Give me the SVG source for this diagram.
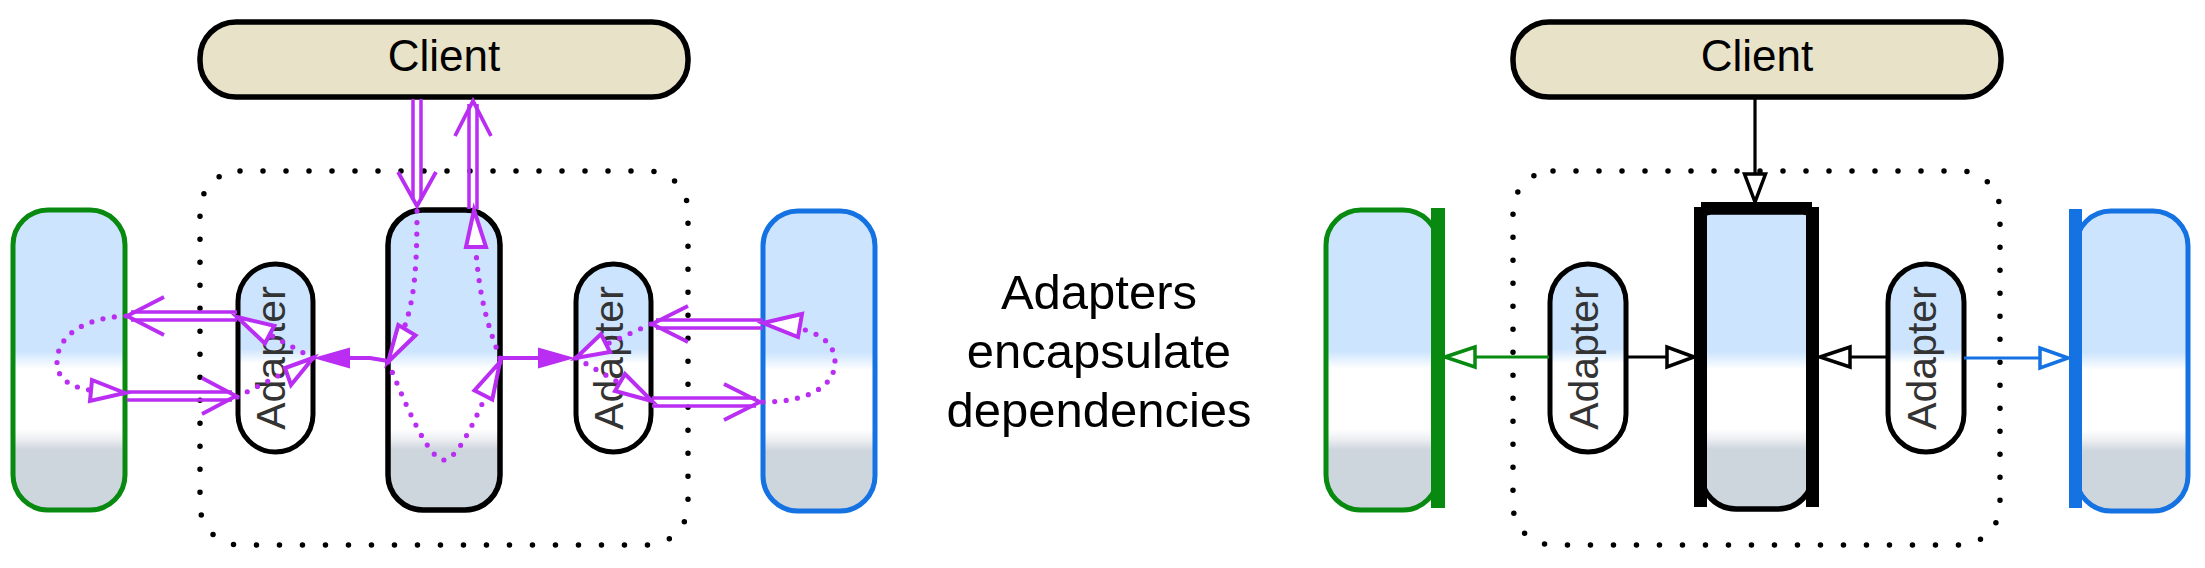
<svg xmlns="http://www.w3.org/2000/svg" width="2205" height="568" viewBox="0 0 2205 568">
<defs>
<linearGradient id="gBox" x1="0" y1="0" x2="0" y2="1">
<stop offset="0" stop-color="#cce4fe"/>
<stop offset="0.47" stop-color="#cce4fe"/>
<stop offset="0.53" stop-color="#ffffff"/>
<stop offset="0.73" stop-color="#ffffff"/>
<stop offset="0.765" stop-color="#eceef1"/>
<stop offset="0.80" stop-color="#cdd5dd"/>
<stop offset="1" stop-color="#cdd5dd"/>
</linearGradient>
<linearGradient id="gAd" x1="0" y1="0" x2="0" y2="1">
<stop offset="0" stop-color="#cce4fe"/>
<stop offset="0.45" stop-color="#cce4fe"/>
<stop offset="0.53" stop-color="#ffffff"/>
<stop offset="1" stop-color="#ffffff"/>
</linearGradient>
<style>
.client{fill:#e8e2c9;stroke:#000;stroke-width:5.5}
.dots{fill:none;stroke:#000;stroke-width:5.5;stroke-linecap:round;stroke-dasharray:0 23}
.box{fill:url(#gBox);stroke-width:5}
.core{fill:url(#gBox);stroke:#000;stroke-width:5.5}
.ad{fill:url(#gAd);stroke:#000;stroke-width:5}
.green{stroke:#078a0f}
.blue{stroke:#1472e2}
.t{font-family:"Liberation Sans",Arial,sans-serif;text-anchor:middle}
.tc{font-size:44px;fill:#000}
.ta{font-size:41px;fill:#333}
.tm{font-size:49px;fill:#000}
.p{fill:none;stroke:#b92ef2;stroke-width:3.5}
.pv{fill:none;stroke:#b92ef2;stroke-width:3.8;stroke-linejoin:miter}
.pd{fill:none;stroke:#b92ef2;stroke-width:5.2;stroke-linecap:round;stroke-dasharray:0 11.5}
.pt{fill:#fff;stroke:#b92ef2;stroke-width:4}
.pf{fill:#b92ef2}
.pl{stroke:#b92ef2;stroke-width:4;fill:none}
.k{stroke:#000;stroke-width:3.2;fill:none}
.kt{fill:#fff;stroke:#000;stroke-width:3.5}
.gl{stroke:#078a0f;stroke-width:3.2;fill:none}
.gt{fill:#fff;stroke:#078a0f;stroke-width:3.5}
.bl{stroke:#1472e2;stroke-width:3.2;fill:none}
.bt{fill:#fff;stroke:#1472e2;stroke-width:3.5}
</style>
</defs>
<rect width="2205" height="568" fill="#fff"/>

<!-- LEFT DIAGRAM -->
<g id="boundary-left"><rect class="dots" x="200" y="171" width="488" height="374" rx="40"/></g>
<g id="client-left">
<rect class="client" x="200" y="22" width="488" height="75" rx="36"/>
<text class="t tc" x="444" y="71">Client</text>
</g>
<g id="green-left"><rect class="box green" x="13" y="210" width="112" height="300" rx="35"/></g>
<g id="core-left"><rect class="core" x="388" y="210" width="112" height="300" rx="35"/></g>
<g id="adapter-left-1">
<rect class="ad" x="238" y="264" width="75" height="188" rx="37.5"/>
<text class="t ta" transform="translate(285,358) rotate(-90)">Adapter</text>
</g>
<g id="adapter-left-2">
<rect class="ad" x="576" y="264" width="75" height="188" rx="37.5"/>
<text class="t ta" transform="translate(623,358) rotate(-90)">Adapter</text>
</g>
<g id="blue-left"><rect class="box blue" x="763" y="211" width="112" height="300" rx="35"/></g>

<g id="connectors-left">
<line class="p" x1="413" y1="99" x2="413" y2="200"/><line class="p" x1="421" y1="99" x2="421" y2="200"/>
<polyline class="pv" points="398,172 417,206 436,172"/>
<line class="p" x1="469" y1="209" x2="469" y2="104"/><line class="p" x1="477" y1="209" x2="477" y2="104"/>
<polyline class="pv" points="455,136 473,101 491,136"/>
<line class="p" x1="237" y1="312" x2="131" y2="312"/><line class="p" x1="237" y1="320" x2="131" y2="320"/>
<polyline class="pv" points="164,297 127,316 164,335"/>
<line class="p" x1="127" y1="392" x2="232" y2="392"/><line class="p" x1="127" y1="400" x2="232" y2="400"/>
<polyline class="pv" points="202,378 236,396 202,414"/>
<line class="p" x1="763" y1="320" x2="656" y2="320"/><line class="p" x1="763" y1="328" x2="656" y2="328"/>
<polyline class="pv" points="688,306 652,324 688,342"/>
<line class="p" x1="652" y1="398" x2="756" y2="398"/><line class="p" x1="652" y1="406" x2="756" y2="406"/>
<polyline class="pv" points="724,384 760,402 724,420"/>
<polyline class="pl" points="388,361 370,358 349,358"/>
<polygon class="pf" points="313,358 350,347.5 350,368.5"/>
<line class="pl" x1="500" y1="358" x2="539" y2="358"/>
<polygon class="pf" points="575,358 538,347.5 538,368.5"/>
<path class="pd" d="M417,211 C417,290 412,320 388,362"/>
<path class="pd" d="M388,362 C404,400 428,460 444,460 C460,460 484,400 500,362"/>
<path class="pd" d="M500,358 C486,320 476,290 474,212"/>
<path class="pd" d="M313,358 L237,317"/>
<path class="pd" d="M237,397 L313,358"/>
<path class="pd" d="M126,316 C80,318 57,338 57,362 C57,386 82,392 126,393"/>
<path class="pd" d="M763,402 C810,402 835,385 835,362 C835,338 810,326 763,323"/>
<path class="pd" d="M651,324 L576,358"/>
<path class="pd" d="M576,358 L651,401"/>
<polygon class="pt" points="388,362 415.5,335.3 398.3,325.1"/>
<polygon class="pt" points="500,362 492.3,399.5 474.5,390.5"/>
<polygon class="pt" points="474,210 466,247 486,247"/>
<polygon class="pt" points="237,317 274.3,325.8 264.9,343.4"/>
<polygon class="pt" points="313,358 285,368 291,385"/>
<polygon class="pt" points="125,393 92,380 90,401"/>
<polygon class="pt" points="763,323 802,314 798,337"/>
<polygon class="pt" points="576,358 601,334 610,352"/>
<polygon class="pt" points="652,401 615,391 625,374"/>
</g>

<g id="caption">
<text class="t tm" x="1099" y="309">Adapters</text>
<text class="t tm" x="1099" y="368">encapsulate</text>
<text class="t tm" x="1099" y="427">dependencies</text>
</g>

<!-- RIGHT DIAGRAM -->
<g id="boundary-right"><rect class="dots" x="1513" y="171" width="487" height="374" rx="40"/></g>
<g id="client-right">
<rect class="client" x="1513" y="22" width="488" height="75" rx="36"/>
<text class="t tc" x="1757" y="71">Client</text>
</g>
<g id="green-right">
<rect class="box green" x="1326" y="210" width="112" height="300" rx="35"/>
<rect x="1431" y="208" width="14" height="300" fill="#078a0f"/>
</g>
<g id="core-right">
<path class="core" d="M1701,222 Q1701,212 1711,212 L1803,212 Q1813,212 1813,222 L1813,474 A35,35 0 0 1 1778,509 L1736,509 A35,35 0 0 1 1701,474 Z"/>
<rect x="1694" y="207" width="13" height="300" fill="#000"/>
<rect x="1806" y="207" width="13" height="300" fill="#000"/>
<rect x="1701" y="202" width="111" height="9" fill="#000"/>
</g>
<g id="adapter-right-1">
<rect class="ad" x="1550" y="264" width="76" height="188" rx="38"/>
<text class="t ta" transform="translate(1597.5,358) rotate(-90)">Adapter</text>
</g>
<g id="adapter-right-2">
<rect class="ad" x="1888" y="264" width="76" height="188" rx="38"/>
<text class="t ta" transform="translate(1935.5,358) rotate(-90)">Adapter</text>
</g>
<g id="blue-right">
<rect class="box blue" x="2076" y="211" width="112" height="300" rx="35"/>
<rect x="2069" y="209" width="13" height="299" fill="#1472e2"/>
</g>

<g id="connectors-right">
<line class="k" x1="1755" y1="99" x2="1755" y2="175"/>
<polygon class="kt" points="1755,202 1744.5,174 1765.5,174"/>
<line class="gl" x1="1549" y1="357" x2="1475" y2="357"/>
<polygon class="gt" points="1445,357 1475,347 1475,367"/>
<line class="k" x1="1627" y1="357" x2="1667" y2="357"/>
<polygon class="kt" points="1694,357 1667,347 1667,367"/>
<line class="k" x1="1886" y1="357" x2="1850" y2="357"/>
<polygon class="kt" points="1820,357 1850,347 1850,367"/>
<line class="bl" x1="1964" y1="358" x2="2040" y2="358"/>
<polygon class="bt" points="2068,358 2040,348 2040,368"/>
</g>
</svg>
